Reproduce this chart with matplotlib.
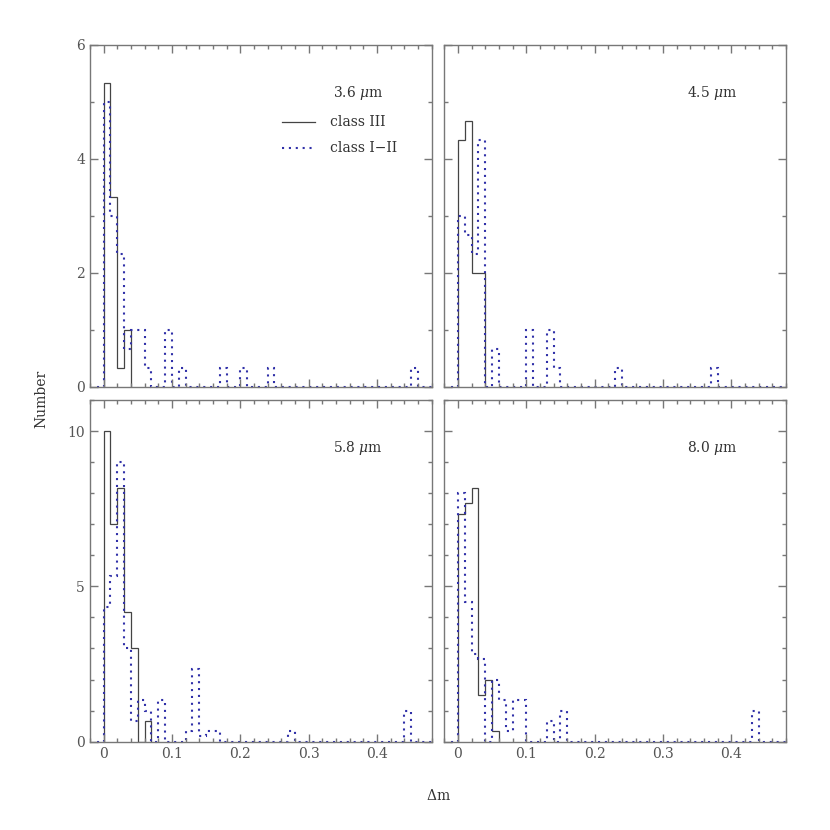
import numpy as np
import matplotlib
matplotlib.use("Agg")
import matplotlib.pyplot as plt
from matplotlib.ticker import MultipleLocator

# bin counts, bin width 0.01 starting at dm = 0
c3_36 = [5.33, 3.33, 0.33, 1.0]
c12_36 = [5.0, 3.0, 2.33, 0.67, 1.0, 1.0, 0.33, 0, 0, 1.0,
          0, 0.33, 0, 0, 0, 0, 0, 0.33, 0, 0,
          0.33, 0, 0, 0, 0.33, 0, 0, 0, 0, 0,
          0, 0, 0, 0, 0, 0, 0, 0, 0, 0,
          0, 0, 0, 0, 0, 0.33, 0, 0]

c3_45 = [4.33, 4.67, 2.0, 2.0]
c12_45 = [3.0, 2.67, 2.33, 4.33, 0, 0.67, 0, 0, 0, 0,
          1.0, 0, 0, 1.0, 0.33, 0, 0, 0, 0, 0,
          0, 0, 0, 0.33, 0, 0, 0, 0, 0, 0,
          0, 0, 0, 0, 0, 0, 0, 0.33, 0, 0,
          0, 0, 0, 0, 0, 0, 0, 0]

c3_58 = [10.0, 7.0, 8.17, 4.17, 3.0, 0, 0.67]
c12_58 = [4.33, 5.33, 9.0, 3.0, 0.67, 1.33, 1.0, 0, 1.33, 0,
          0, 0, 0.33, 2.33, 0.17, 0.33, 0.33, 0, 0, 0,
          0, 0, 0, 0, 0, 0, 0, 0.33, 0, 0,
          0, 0, 0, 0, 0, 0, 0, 0, 0, 0,
          0, 0, 0, 0, 1.0, 0, 0, 0]

c3_80 = [7.33, 7.67, 8.17, 1.5, 2.0, 0.33]
c12_80 = [8.0, 4.5, 2.83, 2.67, 0, 2.0, 1.33, 0.33, 1.33, 1.33,
          0, 0, 0, 0.67, 0, 1.0, 0, 0, 0, 0,
          0, 0, 0, 0, 0, 0, 0, 0, 0, 0,
          0, 0, 0, 0, 0, 0, 0, 0, 0, 0,
          0, 0, 0, 1.0, 0, 0, 0, 0]

bands = ["3.6 $\\mu$m", "4.5 $\\mu$m", "5.8 $\\mu$m", "8.0 $\\mu$m"]
class3 = [c3_36, c3_45, c3_58, c3_80]
class12 = [c12_36, c12_45, c12_58, c12_80]

plt.rcParams['font.family'] = ['DejaVu Serif']
plt.rcParams['mathtext.fontset'] = 'dejavuserif'

gray = '#777777'
tcol = '#555555'
blue = '#3030a8'
dots = (0, (1, 2.3))

fig = plt.figure(figsize=(8.3, 8.3), dpi=100)
lefts = [0.1084, 0.5353]
bottoms = [0.5341, 0.1064]
w = 0.4117

for i in range(4):
    row, col = divmod(i, 2)
    ax = fig.add_axes([lefts[col], bottoms[row], w, w])
    v3 = np.array(class3[i], dtype=float)
    e3 = np.round(np.arange(len(v3) + 1) * 0.01, 3)
    ax.stairs(v3, e3, baseline=0, color='#444444', lw=0.9)
    v12 = np.concatenate([[0.0], class12[i]])
    e12 = np.round(np.arange(len(v12) + 1) * 0.01 - 0.01, 3)
    ax.stairs(v12, e12, baseline=0, color=blue, lw=1.5,
              linestyle=dots, clip_on=False)

    ax.set_xlim(-0.02, 0.48)
    ax.xaxis.set_major_locator(MultipleLocator(0.1))
    ax.xaxis.set_minor_locator(MultipleLocator(0.02))
    if row == 0:
        ax.set_ylim(0, 6)
        ax.yaxis.set_major_locator(MultipleLocator(2))
    else:
        ax.set_ylim(0, 11)
        ax.yaxis.set_major_locator(MultipleLocator(5))
    ax.yaxis.set_minor_locator(MultipleLocator(1))

    ax.tick_params(which='both', direction='in', top=True, right=True,
                   color=gray, labelcolor=tcol, labelsize=10)
    ax.tick_params(which='major', length=6, width=1)
    ax.tick_params(which='minor', length=3, width=1)
    for s in ax.spines.values():
        s.set_color(gray)
        s.set_linewidth(1)
    if row == 0:
        ax.tick_params(labelbottom=False)
    if col == 1:
        ax.tick_params(labelleft=False)
    ax.xaxis.set_major_formatter(plt.FuncFormatter(
        lambda x, p: '0' if abs(x) < 1e-9 else '%g' % x))

    ax.text(0.858, 0.86, bands[i], transform=ax.transAxes, ha='right',
            va='center', fontsize=10, color='#333333')
    if i == 0:
        ax.plot([0.561, 0.659], [0.776, 0.776], transform=ax.transAxes,
                color='#444444', lw=0.9)
        ax.plot([0.561, 0.659], [0.698, 0.698], transform=ax.transAxes,
                color=blue, lw=1.5, linestyle=dots)
        ax.text(0.702, 0.776, "class III", transform=ax.transAxes,
                va='center', fontsize=10, color='#333333')
        ax.text(0.702, 0.698, "class I\u2212II", transform=ax.transAxes,
                va='center', fontsize=10, color='#333333')

fig.text(0.05, 0.52, "Number", rotation=90, ha='center', va='center',
         fontsize=10, color='#333333')
fig.text(0.528, 0.042, "$\\Delta$m", ha='center', va='center',
         fontsize=10, color='#333333')

fig.savefig("out.png", dpi=100)
